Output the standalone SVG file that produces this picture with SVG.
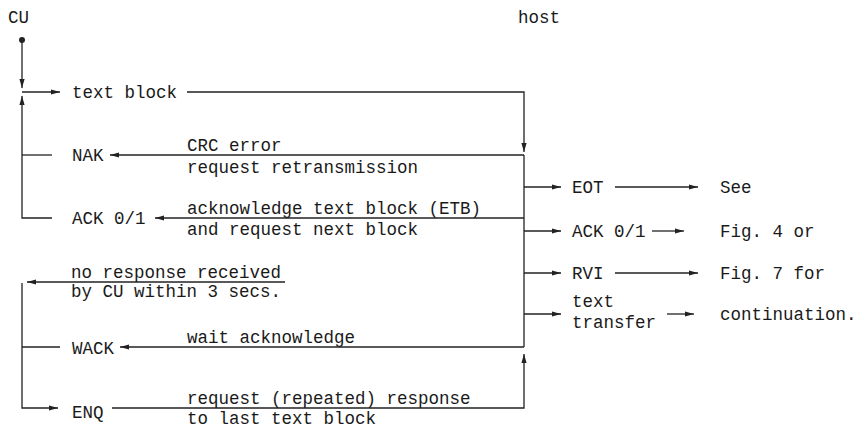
<svg xmlns="http://www.w3.org/2000/svg" width="859" height="430" viewBox="0 0 859 430">
<defs>
<marker id="ah" markerUnits="userSpaceOnUse" markerWidth="10" markerHeight="8" viewBox="0 -4 10 8" refX="9" refY="0" orient="auto">
<path d="M0,-2.6 L9,0 L0,2.6 z" fill="#222"/>
</marker>
<style>
text{font-family:"Liberation Mono","DejaVu Sans Mono",monospace;font-size:17.5px;fill:#1a1a1a}
.c line,.c polyline{stroke:#222;stroke-width:1.3;fill:none}
</style>
</defs>
<rect width="859" height="430" fill="#fff"/>
<g id="headers">
<text x="8" y="23">CU</text>
<text x="518" y="23">host</text>
</g>
<g id="n-textblock"><text x="72" y="98">text block</text></g>
<g id="n-nak"><text x="72" y="161">NAK</text>
<text x="187" y="151">CRC error</text>
<text x="187" y="173">request retransmission</text></g>
<g id="n-ack"><text x="72" y="224">ACK 0/1</text>
<text x="187" y="214">acknowledge text block (ETB)</text>
<text x="187" y="235">and request next block</text></g>
<g id="n-noresp"><text x="71" y="278">no response received</text>
<text x="71" y="297">by CU within 3 secs.</text></g>
<g id="n-wack"><text x="72" y="354">WACK</text>
<text x="187" y="343">wait acknowledge</text></g>
<g id="n-enq"><text x="72" y="418">ENQ</text>
<text x="187" y="404">request (repeated) response</text>
<text x="187" y="424">to last text block</text></g>
<g id="n-eot"><text x="572" y="193">EOT</text><text x="720" y="193">See</text></g>
<g id="n-ack2"><text x="572" y="237">ACK 0/1</text><text x="720" y="237">Fig. 4 or</text></g>
<g id="n-rvi"><text x="572" y="279">RVI</text><text x="720" y="279">Fig. 7 for</text></g>
<g id="n-tt"><text x="572" y="307">text</text><text x="572" y="328">transfer</text><text x="720" y="320">continuation.</text></g>
<g id="connectors" class="c">
<circle cx="22" cy="40" r="3" fill="#222"/>
<line x1="22" y1="40" x2="22" y2="88" marker-end="url(#ah)"/>
<line x1="22" y1="92" x2="60" y2="92" marker-end="url(#ah)"/>
<polyline points="187,92 524,92 524,152" marker-end="url(#ah)"/>
<line x1="22" y1="155" x2="52" y2="155"/>
<polyline points="52,218 22,218 22,96" marker-end="url(#ah)"/>
<line x1="524" y1="155" x2="110" y2="155" marker-end="url(#ah)"/>
<line x1="524" y1="218" x2="155" y2="218" marker-end="url(#ah)"/>
<line x1="524" y1="155" x2="524" y2="347"/>
<line x1="524" y1="187" x2="561" y2="187" marker-end="url(#ah)"/>
<line x1="615" y1="187" x2="698" y2="187" marker-end="url(#ah)"/>
<line x1="524" y1="231" x2="561" y2="231" marker-end="url(#ah)"/>
<line x1="652" y1="231" x2="684" y2="231" marker-end="url(#ah)"/>
<line x1="524" y1="273" x2="561" y2="273" marker-end="url(#ah)"/>
<line x1="615" y1="273" x2="698" y2="273" marker-end="url(#ah)"/>
<line x1="524" y1="314" x2="561" y2="314" marker-end="url(#ah)"/>
<line x1="667" y1="314" x2="694" y2="314" marker-end="url(#ah)"/>
<line x1="524" y1="347" x2="120" y2="347" marker-end="url(#ah)"/>
<line x1="285" y1="282" x2="27" y2="282" marker-end="url(#ah)"/>
<line x1="22" y1="347" x2="60" y2="347"/>
<polyline points="22,283 22,408 58,408" marker-end="url(#ah)"/>
<polyline points="112,408 524,408 524,354" marker-end="url(#ah)"/>
</g>
</svg>
